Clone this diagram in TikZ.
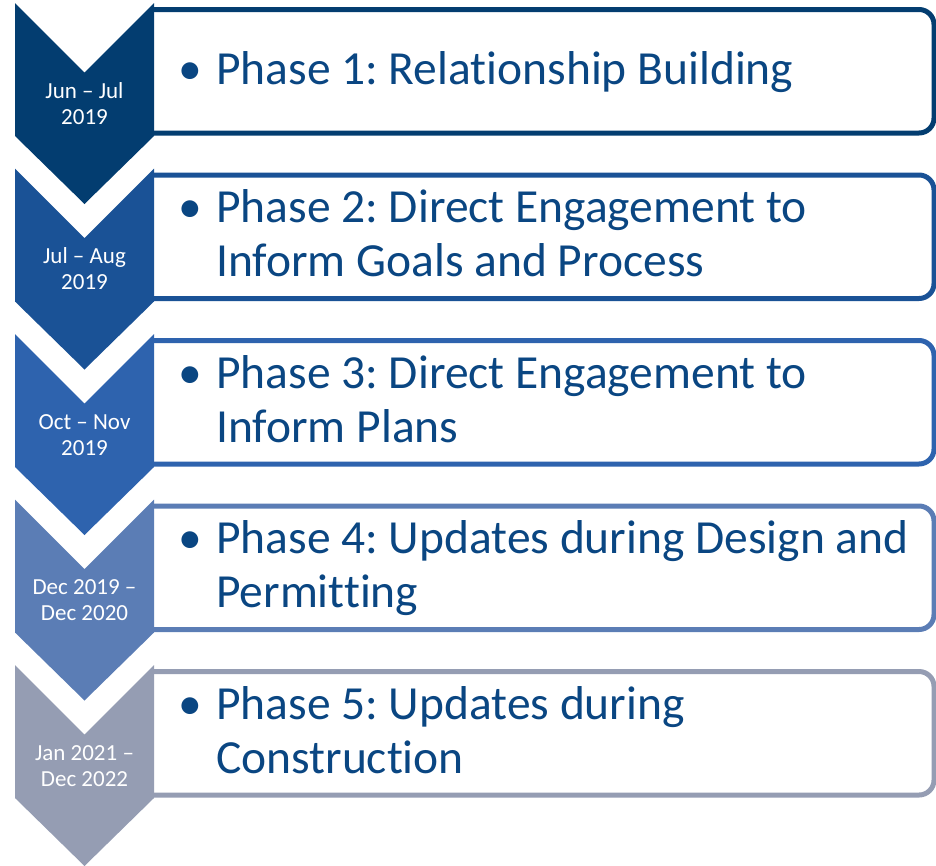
\documentclass[tikz,border=0pt]{standalone}
\usepackage{fontspec}
\setmainfont[Ligatures=NoCommon]{Carlito}
\frenchspacing
\definecolor{cA}{RGB}{3,61,112}
\definecolor{cB}{RGB}{26,82,150}
\definecolor{cC}{RGB}{46,99,174}
\definecolor{cD}{RGB}{91,125,181}
\definecolor{cE}{RGB}{149,157,179}
\definecolor{txtblue}{RGB}{10,70,130}
\tikzset{
  datetxt/.style={text=white,font=\fontsize{23}{26}\selectfont,inner sep=0pt,anchor=base},
  phasetxt/.style={text=txtblue,font=\fontsize{47.5}{54}\selectfont,inner sep=0pt,anchor=base west},
  bul/.style={text=txtblue,font=\fontsize{47.5}{54}\selectfont,inner sep=0pt,anchor=base},
  phasebox/.style={line width=5pt,rounded corners=15pt,fill=white},
}
\newcommand{\chev}[2]{%
  \fill[#2] (15,#1) -- (84.5,#1+69.5) -- (154,#1) -- (154,#1+133) -- (84.5,#1+201) -- (15,#1+133) -- cycle;}
\newcommand{\pbox}[2]{%
  \draw[phasebox,draw=#2] (154,#1+6.5) -- (934,#1+6.5) -- (934,#1+130) -- (154,#1+130);}
\begin{document}
\begin{tikzpicture}[x=1pt,y=-1pt]
\useasboundingbox (0,0) rectangle (936,865);
\begin{scope}
\clip (0,0) rectangle (936,865);
% boxes
\pbox{3}{cA}
\pbox{168.5}{cB}
\pbox{334}{cC}
\pbox{499.5}{cD}
\pbox{665}{cE}
% chevrons
\chev{3}{cA}
\chev{168.5}{cB}
\chev{334}{cC}
\chev{499.5}{cD}
\chev{665}{cE}
\end{scope}
% dates
\node[datetxt] (d1a) at (84.5,98) {Jun – Jul};
\node[datetxt] (d1b) at (84.5,124) {2019};
\node[datetxt] (d2a) at (84.5,263.5) {Jul – Aug};
\node[datetxt] (d2b) at (84.5,289.5) {2019};
\node[datetxt] (d3a) at (84.5,429) {Oct – Nov};
\node[datetxt] (d3b) at (84.5,455) {2019};
\node[datetxt] (d4a) at (84.5,594.5) {Dec 2019 –};
\node[datetxt] (d4b) at (84.5,620.5) {Dec 2020};
\node[datetxt] (d5a) at (84.5,760) {Jan 2021 –};
\node[datetxt] (d5b) at (84.5,786) {Dec 2022};
% bullets
\node[bul] (b1) at (190,84) {•};
\node[bul] (b2) at (190,222.5) {•};
\node[bul] (b3) at (190,388) {•};
\node[bul] (b4) at (190,553.5) {•};
\node[bul] (b5) at (190,719) {•};
% phase texts
\node[phasetxt] (p1) at (216,84) {Phase 1: Relationship Building};
\node[phasetxt] (p2a) at (216,222.5) {Phase 2: Direct Engagement to};
\node[phasetxt] (p2b) at (216,276.5) {Inform Goals and Process};
\node[phasetxt] (p3a) at (216,388) {Phase 3: Direct Engagement to};
\node[phasetxt] (p3b) at (216,442) {Inform Plans};
\node[phasetxt] (p4a) at (216,553.5) {Phase 4: Updates during Design and};
\node[phasetxt] (p4b) at (216,607.5) {Permitting};
\node[phasetxt] (p5a) at (216,719) {Phase 5: Updates during};
\node[phasetxt] (p5b) at (216,773) {Construction};
\end{tikzpicture}
\end{document}
